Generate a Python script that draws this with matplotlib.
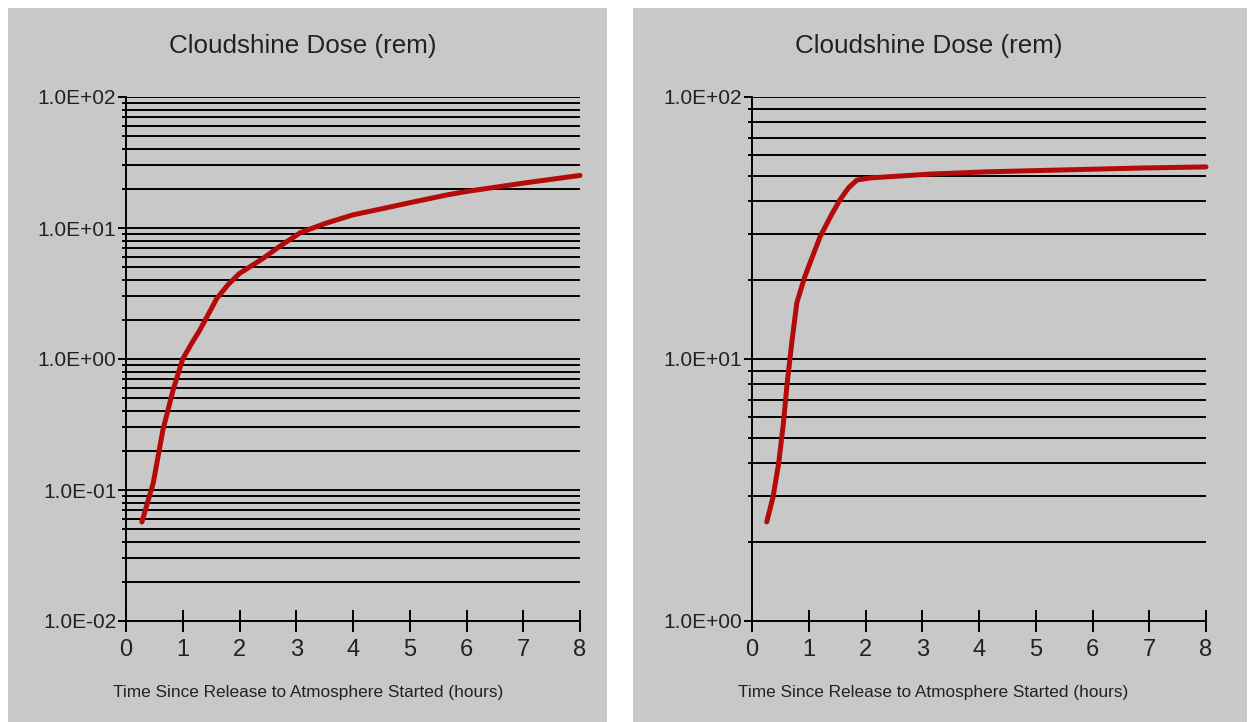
import matplotlib
matplotlib.use("Agg")
import matplotlib.pyplot as plt
from matplotlib.patches import Rectangle
from matplotlib.ticker import LogLocator, FuncFormatter, NullFormatter, FixedLocator

# ---- data ----
left_x = [0.28, 0.48, 0.65, 0.83, 1.0, 1.15, 1.3, 1.6, 1.8, 2.0, 2.4, 2.7, 3.07, 3.5,
          4.0, 4.5, 5.0, 5.66, 6.0, 7.0, 8.0]
left_y = [0.057, 0.113, 0.287, 0.58, 1.0, 1.3, 1.66, 2.9, 3.7, 4.5, 5.8, 7.2, 9.2, 10.8,
          12.6, 14.0, 15.6, 17.9, 19.0, 22.0, 25.2]
right_x = [0.26, 0.37, 0.47, 0.55, 0.62, 0.70, 0.79, 0.93, 1.0, 1.2, 1.4, 1.55, 1.7, 1.85,
           2.08, 3.14, 4.14, 5.37, 6.9, 8.0]
right_y = [2.39, 2.97, 4.0, 5.6, 8.1, 11.5, 16.4, 20.6, 22.6, 29.3, 35.5, 40.5, 45.0, 48.2,
           49.1, 50.8, 51.8, 52.6, 53.6, 54.1]
x_ticks = [0, 1, 2, 3, 4, 5, 6, 7, 8]
left_ylim = (1e-2, 1e2)
right_ylim = (1e0, 1e2)
title_text = "Cloudshine Dose (rem)"
xlabel_text = "Time Since Release to Atmosphere Started (hours)"

FONT = 'Liberation Sans'

W, H = 1252, 722
fig = plt.figure(figsize=(W / 100, H / 100), dpi=100, facecolor='white')

GRAY = '#c8c8c8'
RED = '#b40a0a'
TXT = '#222222'

def px_rect(x0, y0, x1, y1):
    return (x0 / W, 1 - y1 / H, (x1 - x0) / W, (y1 - y0) / H)

for (x0, x1) in [(8, 607), (633, 1247)]:
    l, b, w, h = px_rect(x0, 8, x1, 722)
    fig.add_artist(Rectangle((l, b), w, h, transform=fig.transFigure,
                             facecolor=GRAY, edgecolor='none', zorder=0))

def make_axes(ax_left_px, ylim, xs, ys):
    l, b, w, h = px_rect(ax_left_px, 97, ax_left_px + 454, 621)
    ax = fig.add_axes([l, b, w, h])
    ax.set_facecolor('none')
    ax.set_yscale('log')
    ax.set_xlim(0, 8)
    ax.set_ylim(*ylim)
    for s in ['top', 'right']:
        ax.spines[s].set_visible(False)
    for s in ['left', 'bottom']:
        ax.spines[s].set_linewidth(1.4)
        ax.spines[s].set_color('black')
    ax.yaxis.set_major_locator(LogLocator(base=10))
    ax.yaxis.set_minor_locator(LogLocator(base=10, subs=[2, 3, 4, 5, 6, 7, 8, 9]))
    ax.yaxis.set_major_formatter(FuncFormatter(lambda v, p: f"{v:.1E}"))
    ax.yaxis.set_minor_formatter(NullFormatter())
    ax.yaxis.grid(True, which='both', color='black', linewidth=1.4)
    ax.xaxis.grid(False)
    ax.xaxis.set_major_locator(FixedLocator(x_ticks))
    ax.tick_params(axis='y', which='major', length=6, width=1.4, pad=1, labelsize=15)
    ax.tick_params(axis='y', which='minor', length=3, width=1.4)
    ax.tick_params(axis='x', which='major', direction='inout', length=16, width=1.4,
                   pad=5, labelsize=17)
    for lab in ax.get_yticklabels() + ax.get_xticklabels():
        lab.set_fontfamily(FONT)
        lab.set_color(TXT)
    ax.set_axisbelow(True)
    ax.plot(xs, ys, color=RED, linewidth=3.6, solid_capstyle='round',
            solid_joinstyle='round', zorder=5, clip_on=False)
    return ax

make_axes(126, left_ylim, left_x, left_y)
make_axes(752, right_ylim, right_x, right_y)

for cx_title, cx_label in [(303, 308), (929, 933)]:
    fig.text(cx_title / W, 1 - 46 / H, title_text, ha='center', va='center',
             fontsize=18.7, family=FONT, color=TXT)
    fig.text(cx_label / W, 1 - 693 / H, xlabel_text, ha='center', va='center',
             fontsize=12.4, family=FONT, color=TXT)

fig.savefig('out.png', dpi=100, facecolor='white')
